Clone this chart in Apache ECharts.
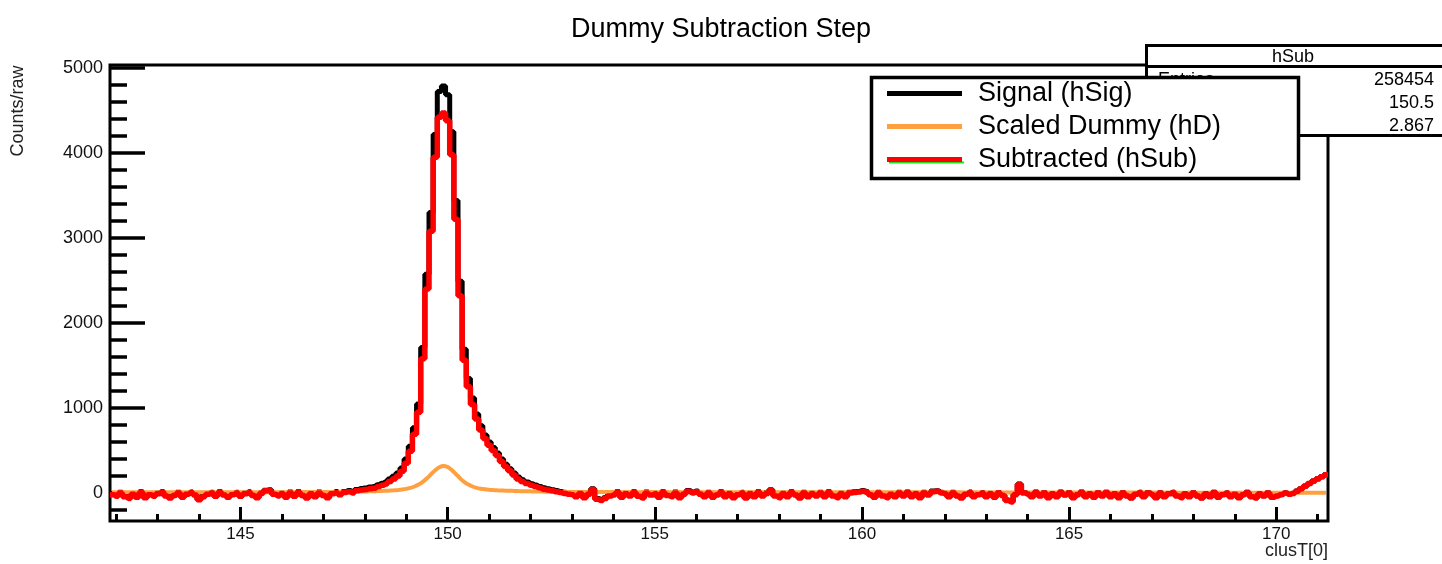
<!DOCTYPE html>
<html>
<head>
<meta charset="utf-8">
<script src="https://cdn.jsdelivr.net/npm/echarts@6/dist/echarts.min.js"></script>
<style>
  * { margin: 0; padding: 0; }
  body { background: #fff; }
</style>
</head>
<body>
<div id="main" style="width:1442px;height:564px;"></div>
<script>
// binning of clusT[0]: 294 bins of 0.1 from 141.85
var binLow = 141.85;
var binWidth = 0.1;

var xMajor = [145, 150, 155, 160, 165, 170];
var xMinor = [142, 143, 144, 146, 147, 148, 149, 151, 152, 153, 154, 156, 157, 158, 159,
              161, 162, 163, 164, 166, 167, 168, 169, 171];
var yMajor = [0, 1000, 2000, 3000, 4000, 5000];
var yMinor = [-200, 200, 400, 600, 800, 1200, 1400, 1600, 1800, 2200, 2400, 2600, 2800,
              3200, 3400, 3600, 3800, 4200, 4400, 4600, 4800];

// hSub = hSig - hD (bin contents)
var hSub = [
  -20,
  -40, 0, -45, -65, -15, -50, 5, -55, -20, -40,         // 142
  -10, 10, -35, -60, -30, 0, -50, -15, 5, -25,          // 143
  -80, -45, -15, 0, -40, 5, -25, -50, -20, 0,           // 144
  -40, -10, 5, -30, -55, -5, 25, 30, -15, -35,          // 145
  -10, -50, 0, -40, 5, -30, -60, -10, -45, 0,           // 146
  -30, -55, -10, 5, -20, 5, 15, 0, 25, 35,              // 147
  40, 50, 55, 75, 90, 105, 135, 165, 200, 255,          // 148
  350, 490, 690, 950, 1580, 2400, 3080, 3950, 4420, 4470, // 149
  4380, 3980, 3220, 2320, 1560, 1250, 1040, 870, 740, 640, // 150
  560, 500, 440, 370, 310, 260, 210, 165, 135, 110,     // 151
  90, 75, 60, 45, 35, 25, 15, 5, -5, -15,               // 152
  -20, -45, -5, -55, -15, 40, -75, -90, -65, -35,       // 153
  -25, 5, -50, -10, -35, 5, -40, -60, 0, -25,           // 154
  -10, -50, 5, -30, -45, 0, -55, -15, 20, 0,            // 155
  15, -15, -45, 0, -50, -25, 5, -45, -10, -55,          // 156
  -20, 0, -60, -10, -45, 5, -35, -5, 30, -35,           // 157
  -55, -10, -45, 5, -25, -60, 0, -45, -10, -35,         // 158
  0, -45, 5, -35, -55, -10, -45, 0, 5, 10,              // 159
  20, 10, -20, -50, 0, -35, -55, -15, -45, 0,           // 160
  -35, 5, -45, -10, -55, 0, -25, 15, 20, 0,             // 161
  -10, -45, 0, -35, -60, -15, 5, -45, -20, 0,           // 162
  -45, -10, -50, 0, -30, -90, -105, -20, 100, 0,        // 163
  -15, -45, 5, -35, 0, -55, -10, -45, 5, -25,           // 164
  0, -55, -20, 5, -45, -10, -50, 0, -35, 5,             // 165
  -45, -10, -55, 0, -35, -60, -15, 5, -45, 0,           // 166
  -20, -55, 0, -45, -10, 5, -35, -55, -10, -45,         // 167
  0, -35, -60, -10, -45, 5, -50, -20, 0, -45,           // 168
  -15, -55, -20, 5, -45, -60, -10, -35, 0, -50,         // 169
  -35, -20, 0, -15, -5, 20, 50, 80, 110, 140,           // 170
  165, 190, 215
];

// scaled dummy hD
var hD = [
  8,
  8, 8, 9, 8, 8, 7, 8, 8, 9, 8,
  8, 7, 8, 8, 8, 9, 8, 8, 7, 8,
  8, 8, 9, 8, 8, 8, 7, 8, 8, 9,
  8, 8, 8, 9, 9, 8, 8, 8, 9, 9,
  9, 9, 10, 9, 9, 10, 10, 10, 11, 11,
  11, 11, 12, 12, 13, 13, 14, 15, 16, 17,
  18, 19, 20, 22, 24, 26, 28, 31, 35, 40,
  48, 60, 76, 98, 130, 172, 220, 268, 303, 318,
  306, 270, 222, 172, 130, 98, 76, 60, 50, 43,
  38, 34, 31, 29, 27, 25, 24, 22, 21, 20,
  19, 18, 17, 16, 15, 14, 13, 13, 12, 12,
  12, 11, 11, 11, 10, 10, 10, 10, 10, 10,
  10, 10, 9, 10, 10, 10, 9, 10, 10, 10,
  10, 9, 10, 10, 9, 10, 10, 9, 10, 10,
  9, 10, 9, 9, 10, 9, 9, 10, 9, 9,
  9, 9, 9, 10, 9, 9, 9, 9, 9, 9,
  9, 8, 9, 9, 9, 8, 9, 9, 8, 9,
  8, 9, 8, 8, 9, 8, 8, 8, 9, 8,
  8, 8, 8, 8, 7, 8, 8, 8, 7, 8,
  8, 7, 8, 7, 8, 7, 7, 8, 7, 7,
  7, 7, 7, 7, 7, 6, 7, 7, 7, 6,
  7, 6, 7, 6, 6, 7, 6, 6, 6, 6,
  6, 6, 6, 5, 6, 6, 5, 6, 5, 5,
  5, 5, 5, 5, 5, 5, 4, 5, 5, 4,
  5, 4, 4, 5, 4, 4, 4, 4, 4, 4,
  4, 4, 3, 4, 4, 3, 4, 3, 3, 4,
  3, 3, 3, 3, 3, 3, 3, 3, 3, 2,
  3, 2, 3, 2, 2, 3, 2, 2, 2, 2,
  2, 2, 2, 2, 2, 2, 2, 2, 2, 2,
  2, 2, 2
];

var hSig = hSub.map(function (v, i) { return v + hD[i]; });

var statNames = ['Entries', 'Mean', 'Std Dev'];
var statValues = ['258454', '150.5', '2.867'];

var FONT = '"Liberation Sans", Arial, sans-serif';

function stepData(vals) {
  var pts = [[binLow, vals[0]]];
  for (var i = 0; i < vals.length; i++) {
    pts.push([binLow + (i + 0.5) * binWidth, vals[i]]);
  }
  pts.push([binLow + vals.length * binWidth, vals[vals.length - 1]]);
  return pts;
}
function centerData(vals) {
  return vals.map(function (v, i) { return [binLow + (i + 0.5) * binWidth, v]; });
}

var myChart = echarts.init(document.getElementById('main'));

var statTexts = [];
for (var k = 0; k < statNames.length; k++) {
  statTexts.push({
    type: 'text', z: 11,
    style: { text: statNames[k], x: 1158, y: 80 + k * 23, font: '18px ' + FONT,
             fill: '#000', textAlign: 'left', textVerticalAlign: 'middle', align: 'left', verticalAlign: 'middle' }
  });
  statTexts.push({
    type: 'text', z: 11,
    style: { text: statValues[k], x: 1434, y: 80 + k * 23, font: '18px ' + FONT,
             fill: '#000', textAlign: 'right', textVerticalAlign: 'middle', align: 'right', verticalAlign: 'middle' }
  });
}

var option = {
  animation: false,
  title: {
    text: 'Dummy Subtraction Step',
    left: 'center',
    top: 11,
    textStyle: { fontFamily: FONT, fontSize: 27, fontWeight: 'normal', color: '#000' }
  },
  grid: {
    left: 110, right: 114, top: 65, bottom: 43,
    show: true, borderColor: '#000', borderWidth: 3, backgroundColor: 'transparent'
  },
  legend: {
    orient: 'vertical',
    left: 887, top: 77,
    padding: 0,
    itemWidth: 75, itemHeight: 5, itemGap: 0,
    icon: 'rect',
    textStyle: { fontFamily: FONT, fontSize: 27, color: '#000', lineHeight: 33, padding: [0, 0, 0, 11] },
    z: 20,
    data: ['Signal (hSig)', 'Scaled Dummy (hD)', 'Subtracted (hSub)']
  },
  xAxis: [{
    type: 'value', min: binLow, max: binLow + hSub.length * binWidth, position: 'bottom',
    axisLine: { show: false, onZero: false },
    axisTick: { show: true, inside: true, length: 14, customValues: xMajor, lineStyle: { color: '#000', width: 3 } },
    axisLabel: { customValues: xMajor, fontFamily: FONT, fontSize: 17, color: '#111', margin: 5,
                 formatter: function (v) { return String(v); } },
    splitLine: { show: false }
  }, {
    type: 'value', min: binLow, max: binLow + hSub.length * binWidth, position: 'bottom',
    axisLine: { show: false, onZero: false },
    axisTick: { show: true, inside: true, length: 7, customValues: xMinor, lineStyle: { color: '#000', width: 3 } },
    axisLabel: { show: false },
    splitLine: { show: false }
  }],
  yAxis: [{
    type: 'value', min: -330, max: 5035, position: 'left',
    axisLine: { show: false, onZero: false },
    axisTick: { show: true, inside: true, length: 35, customValues: yMajor, lineStyle: { color: '#000', width: 3.5 } },
    axisLabel: { customValues: yMajor, fontFamily: FONT, fontSize: 18, color: '#111', margin: 7,
                 formatter: function (v) { return String(v); } },
    splitLine: { show: false }
  }, {
    type: 'value', min: -330, max: 5035, position: 'left',
    axisLine: { show: false, onZero: false },
    axisTick: { show: true, inside: true, length: 17, customValues: yMinor, lineStyle: { color: '#000', width: 3.5 } },
    axisLabel: { show: false },
    splitLine: { show: false }
  }],
  series: [{
    name: 'Signal (hSig)', type: 'line', step: 'middle', data: stepData(hSig),
    showSymbol: false, symbol: 'none', color: '#000',
    lineStyle: { color: '#000', width: 5 }, z: 2
  }, {
    name: 'Scaled Dummy (hD)', type: 'line', data: centerData(hD), smooth: 0.3,
    showSymbol: false, symbol: 'none', color: '#ffa040',
    lineStyle: { color: '#ffa040', width: 4 }, z: 3
  }, {
    name: 'Subtracted (hSub)', type: 'line', step: 'middle', data: stepData(hSub),
    showSymbol: false, symbol: 'none', color: '#ff0000',
    lineStyle: { color: '#ff0000', width: 5.5 }, z: 4
  }],
  graphic: [
    {
      type: 'rect', z: 10,
      shape: { x: 1146.5, y: 45.5, width: 330, height: 90 },
      style: { fill: '#fff', stroke: '#000', lineWidth: 3 }
    },
    {
      type: 'line', z: 10,
      shape: { x1: 1146, y1: 66.5, x2: 1442, y2: 66.5 },
      style: { stroke: '#000', lineWidth: 3 }
    },
    {
      type: 'text', z: 11,
      style: { text: 'hSub', x: 1293, y: 57, font: '18px ' + FONT, fill: '#000',
               textAlign: 'center', textVerticalAlign: 'middle', align: 'center', verticalAlign: 'middle' }
    }
  ].concat(statTexts).concat([
    {
      type: 'rect', z: 12,
      shape: { x: 871.5, y: 77.5, width: 427, height: 101 },
      style: { fill: '#fff', stroke: '#000', lineWidth: 3.5 }
    },
    {
      type: 'line', z: 13,
      shape: { x1: 889, y1: 162.5, x2: 964, y2: 162.5 },
      style: { stroke: '#22dd22', lineWidth: 2 }
    },
    {
      type: 'text', z: 11, x: 18, y: 111, rotation: Math.PI / 2,
      style: { text: 'Counts/raw', x: 0, y: 0, font: '18px ' + FONT, fill: '#222',
               textAlign: 'center', textVerticalAlign: 'middle', align: 'center', verticalAlign: 'middle' }
    },
    {
      type: 'text', z: 11,
      style: { text: 'clusT[0]', x: 1328, y: 551, font: '18px ' + FONT, fill: '#222',
               textAlign: 'right', textVerticalAlign: 'middle', align: 'right', verticalAlign: 'middle' }
    }
  ])
};

myChart.setOption(option);
</script>
</body>
</html>
